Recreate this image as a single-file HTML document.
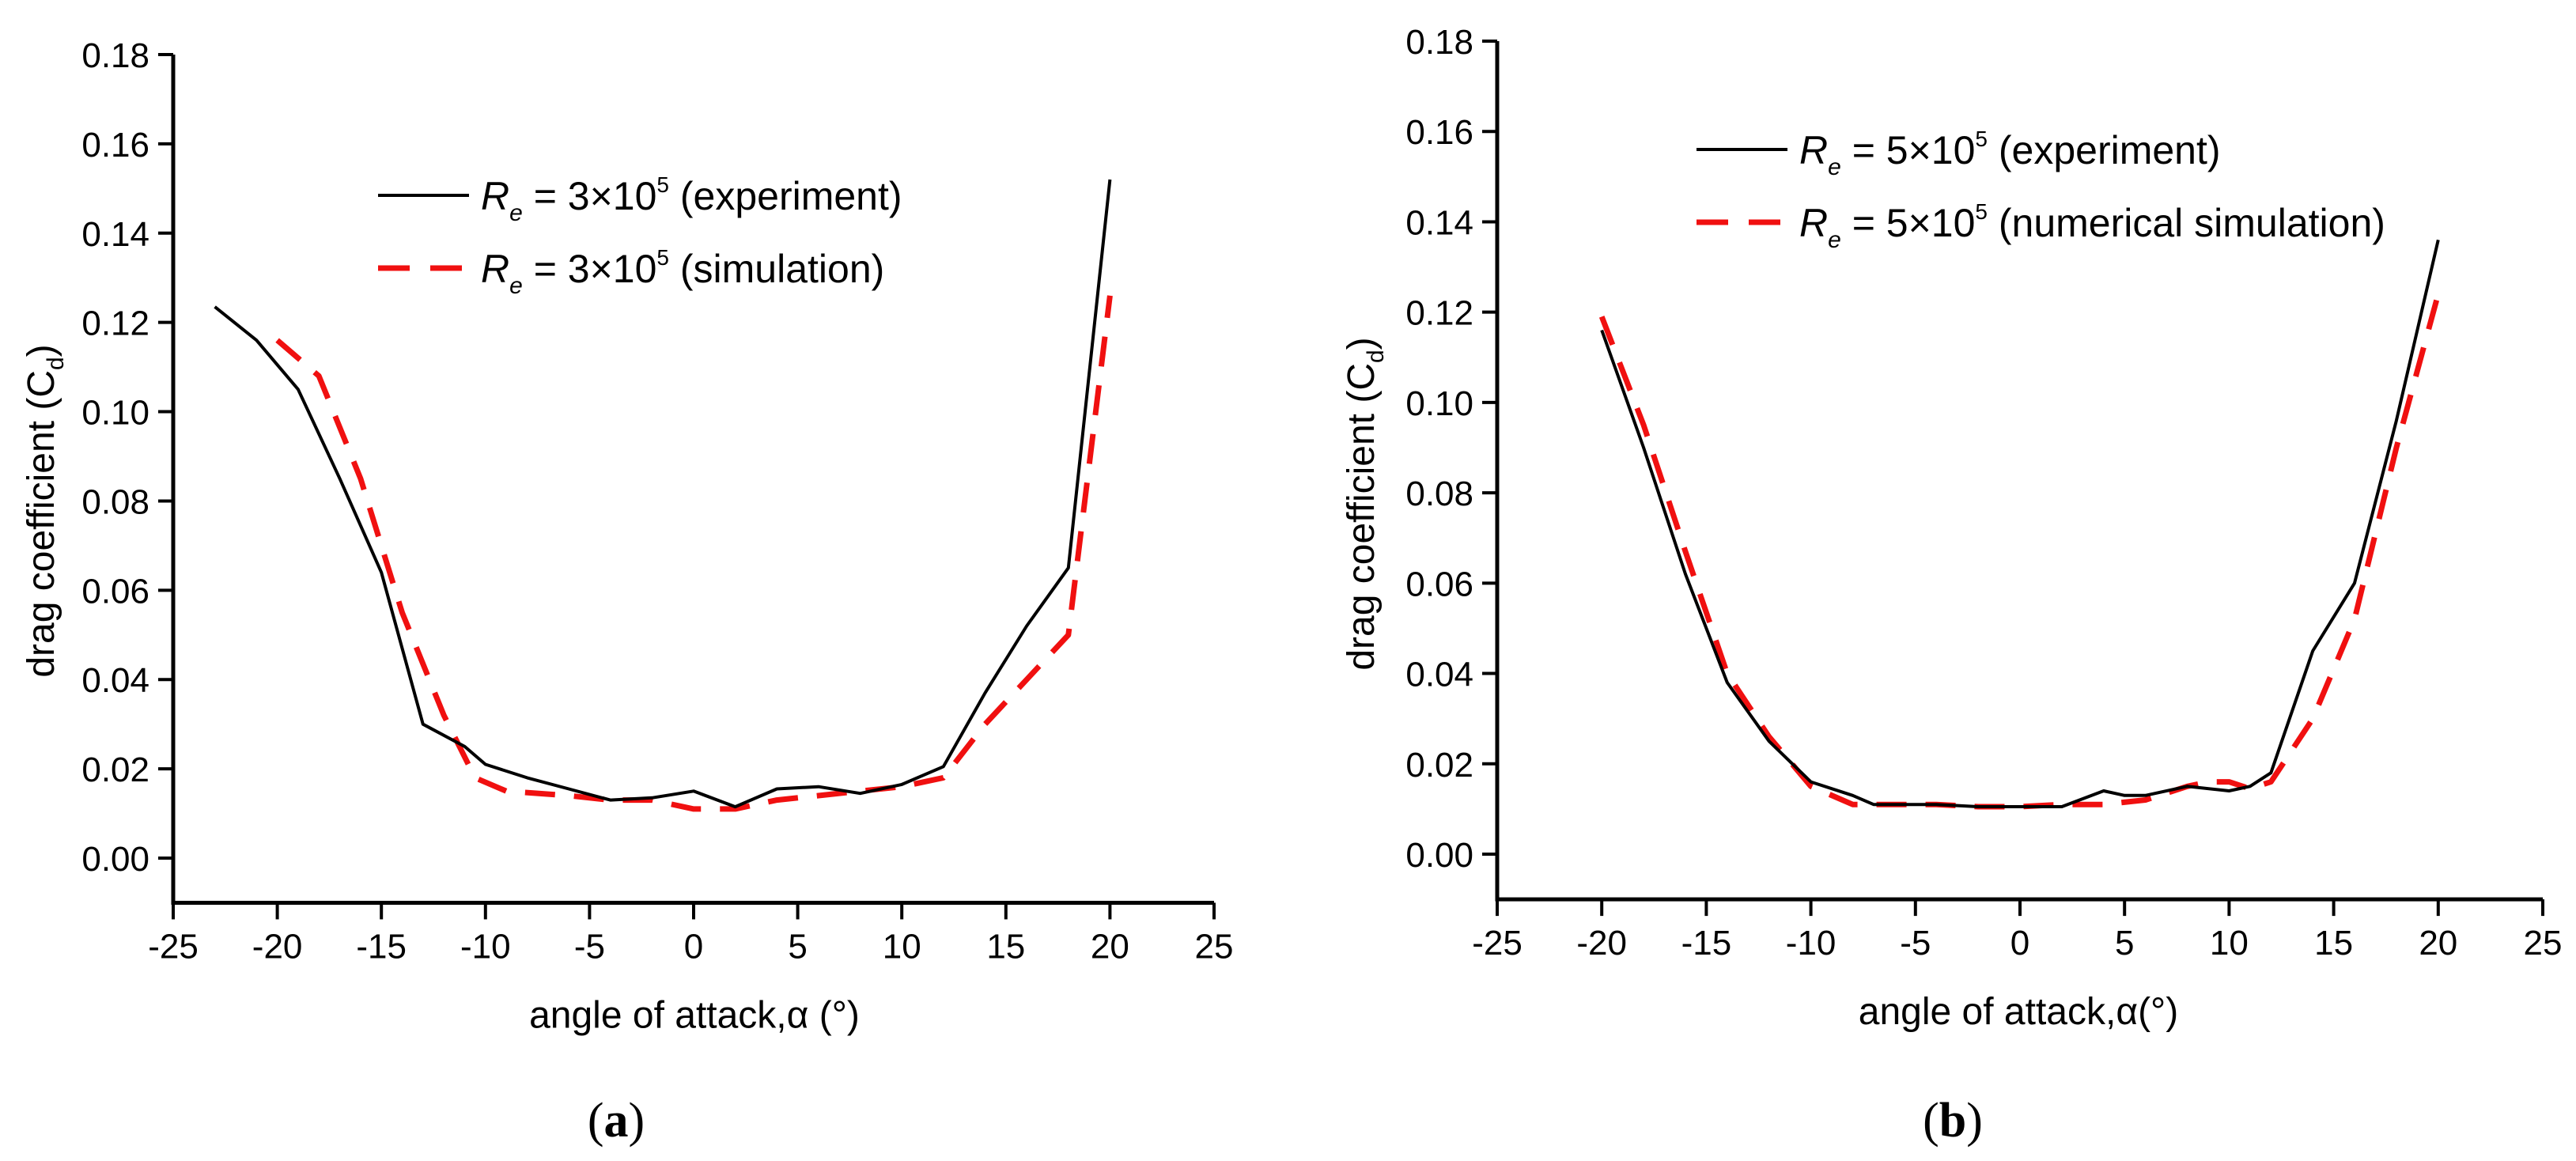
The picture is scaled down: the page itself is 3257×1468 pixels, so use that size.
<!DOCTYPE html>
<html><head><meta charset="utf-8"><style>
html,body{margin:0;padding:0;background:#fff}
svg{display:block}
text{font-family:"Liberation Sans",sans-serif;fill:#000}
</style></head><body>
<svg id="fig" width="3257" height="1468" viewBox="0 0 3257 1468" xmlns="http://www.w3.org/2000/svg"></svg>
<script>
const xTicks = [-25,-20,-15,-10,-5,0,5,10,15,20,25];
const yTicks = [0,0.02,0.04,0.06,0.08,0.10,0.12,0.14,0.16,0.18];
const yTickLabels = ["0.00","0.02","0.04","0.06","0.08","0.10","0.12","0.14","0.16","0.18"];
const aExpX = [-23,-21,-19,-17,-15,-13,-11,-10,-8,-6,-4,-2,0,2,4,6,8,10,12,14,16,18,20];
const aExpY = [0.1235,0.116,0.105,0.085,0.064,0.030,0.025,0.021,0.018,0.0155,0.013,0.0135,0.015,0.0115,0.0155,0.016,0.0145,0.0165,0.0205,0.037,0.052,0.065,0.152];
const aSimX = [-20,-18,-16,-14,-12,-10.5,-9,-6,-4,-2,0,2,4,6,8,10,12,14,16,18,20];
const aSimY = [0.116,0.108,0.085,0.055,0.032,0.018,0.015,0.014,0.013,0.013,0.011,0.011,0.013,0.014,0.015,0.016,0.018,0.030,0.040,0.050,0.126];
const bExpX = [-20,-18,-16,-14,-12,-10,-8,-7,-4,-2,0,2,4,5,6,8,10,11,12,14,16,18,20];
const bExpY = [0.116,0.090,0.062,0.038,0.025,0.016,0.013,0.011,0.011,0.0105,0.0105,0.0105,0.014,0.013,0.013,0.015,0.014,0.015,0.018,0.045,0.060,0.096,0.136];
const bSimX = [-20,-18,-16,-14,-12,-10,-8,-6,-4,-2,0,2,4,6,8,9,10,11,12,14,16,18,20];
const bSimY = [0.119,0.095,0.067,0.040,0.026,0.015,0.011,0.011,0.011,0.0105,0.0105,0.011,0.011,0.012,0.015,0.016,0.016,0.0145,0.016,0.030,0.052,0.090,0.124];

const NS="http://www.w3.org/2000/svg";
const svg=document.getElementById('fig');
function mk(tag,attrs,parent){const e=document.createElementNS(NS,tag);for(const k in attrs)e.setAttribute(k,attrs[k]);(parent||svg).appendChild(e);return e;}

function panel(p){
  const g=mk('g',{});
  
  
  const sx=v=>p.x0+(v+25)*(p.x1-p.x0)/50;
  const sy=v=>p.y0-v*(p.y0-p.y18)/0.18;
  const bottom=sy(-0.01);
  const ax=mk('path',{d:`M${p.x0},${sy(0.18)} V${bottom} H${p.x1}`,fill:'none',stroke:'#000','stroke-width':5},g);
  
  
  yTicks.forEach((v,i)=>{
    mk('line',{x1:p.x0-19,x2:p.x0,y1:sy(v),y2:sy(v),stroke:'#000','stroke-width':4},g);
    const t=mk('text',{x:p.x0-30,y:sy(v)+16,'text-anchor':'end','font-size':44},g);
    
    
    t.textContent=yTickLabels[i];
  });
  xTicks.forEach(v=>{
    mk('line',{x1:sx(v),x2:sx(v),y1:bottom,y2:bottom+21,stroke:'#000','stroke-width':4},g);
    const t=mk('text',{x:sx(v),y:bottom+70,'text-anchor':'middle','font-size':44},g);
    
    
    t.textContent=String(v);
  });
  const xt=mk('text',{x:p.xtx,y:bottom+158,'text-anchor':'middle','font-size':48},g);
  
  
  xt.textContent=p.xtitle;
  const yt=mk('text',{transform:`translate(${p.ytx},${p.yty}) rotate(-90)`,'text-anchor':'middle','font-size':48},g);
  
  
  yt.innerHTML='drag coefficient (C<tspan font-size="30" dy="12">d</tspan><tspan dy="-12">)</tspan>';
  const line=(xs,ys,attrs,name)=>{
    const d=xs.map((x,i)=>(i?'L':'M')+sx(x).toFixed(1)+','+sy(ys[i]).toFixed(1)).join(' ');
    const e=mk('path',Object.assign({d,fill:'none','stroke-linejoin':'round'},attrs),g);
    
    
  };
  line(p.simX,p.simY,{stroke:'#f01010','stroke-width':7,'stroke-dasharray':'38 24'},'simulation-line');
  line(p.expX,p.expY,{stroke:'#000','stroke-width':4},'experiment-line');
  // legend
  p.leg.forEach((L,i)=>{
    const lg=mk('g',{},g);
    
    
    const y=p.legY+i*p.legDy;
    mk('line',Object.assign({x1:p.legX,x2:p.legX+115,y1:y,y2:y},i?{stroke:'#f01010','stroke-width':7,'stroke-dasharray':'40 26'}:{stroke:'#000','stroke-width':4}),lg);
    const t=mk('text',{x:p.legX+130,y:y+18,'font-size':50},lg);
    t.innerHTML='<tspan font-style="italic">R</tspan><tspan font-style="italic" font-size="30" dy="14">e</tspan><tspan dy="-14"> = '+p.num+'×10</tspan><tspan font-size="28" dy="-22">5</tspan><tspan dy="22"> '+L+'</tspan>';
  });
  const cap=mk('text',{x:p.capX,y:1437,'text-anchor':'middle','font-size':62,style:'font-family:"Liberation Serif",serif'},g);
  
  
  cap.innerHTML='(<tspan font-weight="bold">'+p.cap+'</tspan>)';
}
panel({name:'chart-a',x0:219,x1:1535,y0:1085,y18:69,expX:aExpX,expY:aExpY,simX:aSimX,simY:aSimY,
  xtitle:'angle of attack,α (°)',xtx:878,ytx:68,yty:646,legX:478,legY:247,legDy:92,num:'3',
  leg:['(experiment)','(simulation)'],capX:779,cap:'a'});
panel({name:'chart-b',x0:1893,x1:3215,y0:1080,y18:52,expX:bExpX,expY:bExpY,simX:bSimX,simY:bSimY,
  xtitle:'angle of attack,α(°)',xtx:2552,ytx:1737,yty:637,legX:2145,legY:189,legDy:92,num:'5',
  leg:['(experiment)','(numerical simulation)'],capX:2469,cap:'b'});
</script>
</body></html>
